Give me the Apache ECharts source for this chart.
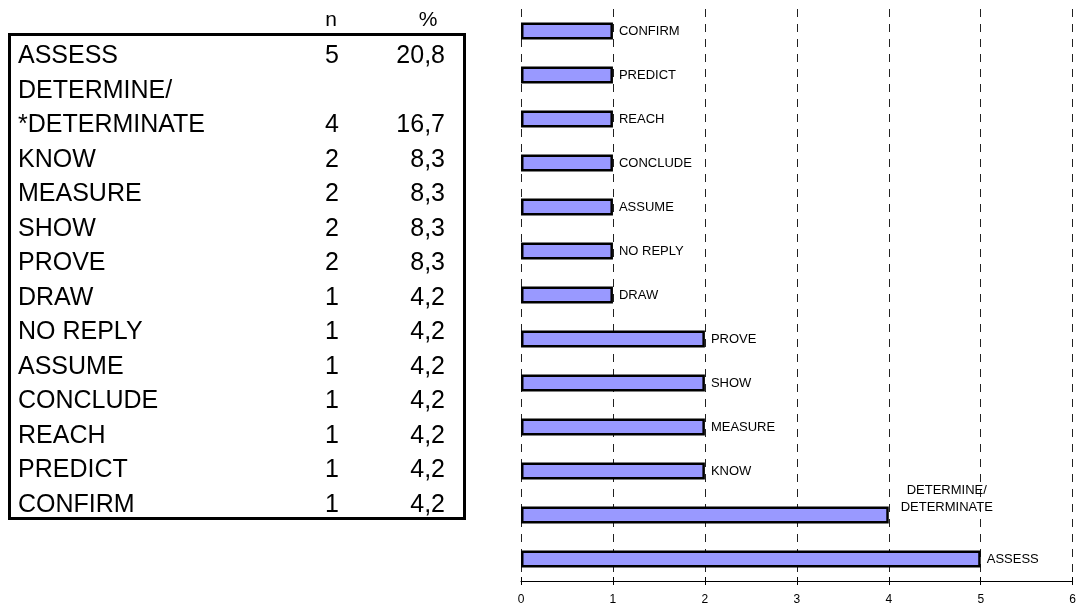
<!DOCTYPE html>
<html>
<head>
<meta charset="utf-8">
<script src="https://cdn.jsdelivr.net/npm/echarts@6/dist/echarts.min.js"></script>
<style>
html,body{margin:0;padding:0;background:#fff;}
#c{width:1079px;height:606px;}
</style>
</head>
<body>
<div id="c"></div>
<script>
// ---- data ----
var tableLabels = ['ASSESS', 'DETERMINE/\n*DETERMINATE', 'KNOW', 'MEASURE', 'SHOW', 'PROVE', 'DRAW', 'NO REPLY', 'ASSUME', 'CONCLUDE', 'REACH', 'PREDICT', 'CONFIRM'];
var tableN = [5, 4, 2, 2, 2, 2, 1, 1, 1, 1, 1, 1, 1];
var tablePct = ['20,8', '16,7', '8,3', '8,3', '8,3', '8,3', '4,2', '4,2', '4,2', '4,2', '4,2', '4,2', '4,2'];
var headerN = 'n';
var headerPct = '%';

var barCategories = ['CONFIRM', 'PREDICT', 'REACH', 'CONCLUDE', 'ASSUME', 'NO REPLY', 'DRAW', 'PROVE', 'SHOW', 'MEASURE', 'KNOW', 'DETERMINE/\nDETERMINATE', 'ASSESS'];
var barValues = [1, 1, 1, 1, 1, 1, 1, 2, 2, 2, 2, 4, 5];
var xTicks = [0, 1, 2, 3, 4, 5, 6];

// ---- table graphics ----
var FONT = '"Liberation Sans", Arial, Helvetica, sans-serif';
var graphics = [];
graphics.push({
  type: 'rect', shape: {x: 9.5, y: 34.5, width: 455, height: 484},
  style: {fill: 'none', stroke: '#000', lineWidth: 3}, z: 10
});
graphics.push({type: 'text', x: 331, y: 10, style: {text: headerN, font: '21px ' + FONT, fill: '#000', align: 'center', verticalAlign: 'top'}});
graphics.push({type: 'text', x: 428, y: 10, style: {text: headerPct, font: '21px ' + FONT, fill: '#000', align: 'center', verticalAlign: 'top'}});
var line = 0, LH = 34.5, TOP0 = 44;
tableLabels.forEach(function (lab, i) {
  var parts = lab.split('\n');
  parts.forEach(function (p) {
    graphics.push({type: 'text', x: 18, y: TOP0 + LH * line, style: {text: p, font: '25px ' + FONT, fill: '#000', align: 'left', verticalAlign: 'top'}});
    line++;
  });
  var y = TOP0 + LH * (line - 1);
  graphics.push({type: 'text', x: 332, y: y, style: {text: String(tableN[i]), font: '25px ' + FONT, fill: '#000', align: 'center', verticalAlign: 'top'}});
  graphics.push({type: 'text', x: 445, y: y, style: {text: tablePct[i], font: '25px ' + FONT, fill: '#000', align: 'right', verticalAlign: 'top'}});
});

// ---- chart ----
var chart = echarts.init(document.getElementById('c'), null, {renderer: 'canvas'});
var xBase = {
  type: 'value', min: xTicks[0], max: xTicks[xTicks.length - 1], interval: 1,
  position: 'bottom'
};
chart.setOption({
  animation: false,
  backgroundColor: '#fff',
  textStyle: {fontFamily: FONT},
  grid: {left: 521, right: 2, top: 9, height: 572, containLabel: false},
  graphic: graphics,
  xAxis: [
    Object.assign({}, xBase, {
      axisLine: {show: true, lineStyle: {color: '#000', width: 1}},
      axisTick: {show: true, length: 4, lineStyle: {color: '#000'}},
      axisLabel: {show: true, fontSize: 12, color: '#000', margin: 13, fontFamily: FONT},
      splitLine: {show: true, lineStyle: {color: '#222', type: [8, 7], width: 1}}
    }),
    Object.assign({}, xBase, {
      axisLine: {show: false},
      axisTick: {show: true, inside: true, length: 4, lineStyle: {color: '#000'}},
      axisLabel: {show: false},
      splitLine: {show: false}
    })
  ],
  yAxis: {
    type: 'category', data: barCategories, inverse: true,
    axisLine: {show: false}, axisTick: {show: false}, axisLabel: {show: false},
    splitLine: {show: false}
  },
  series: [{
    type: 'bar', xAxisIndex: 0,
    data: barValues.map(function (v, i) {
      var item = {value: v};
      if (barCategories[i].indexOf('\n') >= 0) {
        item.label = {align: 'center', verticalAlign: 'middle', offset: [58, -16], distance: 0, lineHeight: 17};
      }
      return item;
    }),
    barWidth: 17,
    itemStyle: {color: '#9999FF', borderColor: '#000', borderWidth: 2.5},
    label: {
      show: true, position: 'right', distance: 6, formatter: '{b}',
      fontSize: 13, color: '#000', fontFamily: FONT
    },
    z: 5
  }]
});
</script>
</body>
</html>
